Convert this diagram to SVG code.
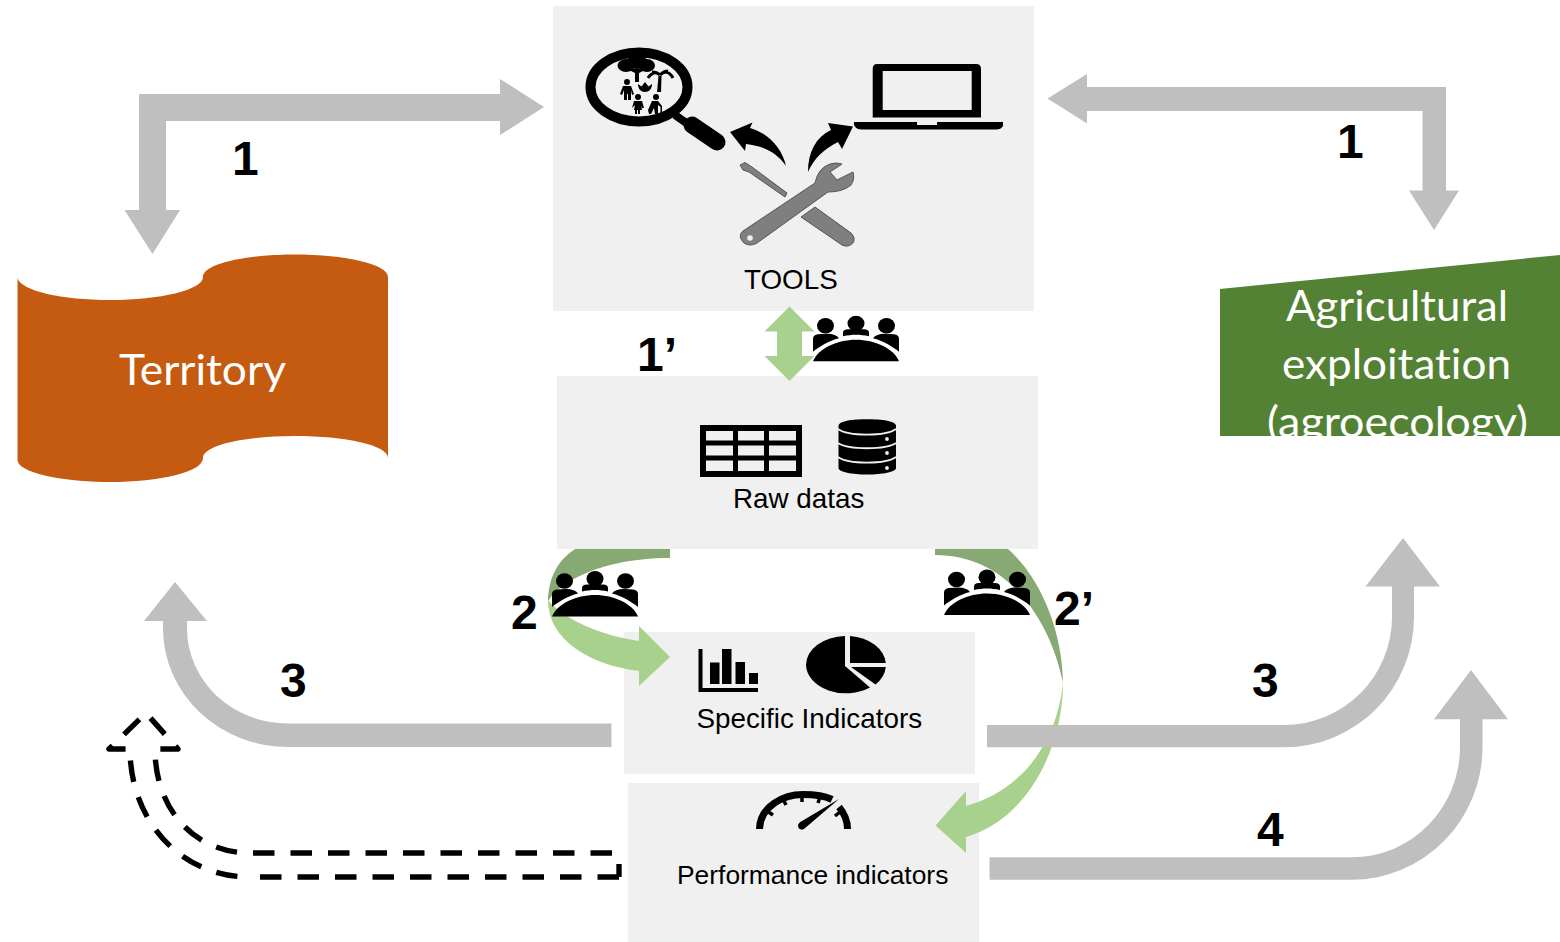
<svg xmlns="http://www.w3.org/2000/svg" width="1560" height="942" viewBox="0 0 1560 942">
<style>
.box{fill:#f0f0f0}
.gray{fill:#bfbfbf}
.light{fill:#a9d18e}
.dark{fill:#87a974}
.lbl{font-family:"Liberation Sans",Arial,sans-serif;font-size:27.8px;fill:#000}
.num{font-family:"Liberation Sans",Arial,sans-serif;font-weight:bold;font-size:48px;fill:#000}
.big{font-family:Lato,"Open Sans",sans-serif;font-size:43px;fill:#fff;font-variant-ligatures:none}
.k{fill:#000}
.t{fill:#7f7f7f;stroke:#555;stroke-width:1}
.dash{fill:none;stroke:#000;stroke-width:5.4;stroke-dasharray:21.5 16;stroke-linejoin:round}
</style>
<defs>
<clipPath id="agriClip"><rect x="1220" y="250" width="340" height="186"/></clipPath>
<g id="people">
<ellipse cx="13.500" cy="10" rx="8.500" ry="7.800" class="k"/>
<ellipse cx="44" cy="7.800" rx="8.500" ry="7.800" class="k"/>
<ellipse cx="74.500" cy="10" rx="8.500" ry="7.800" class="k"/>
<path class="k" d="M1 36V23Q1 19 6 18.500L15 18Q24 18 27 22.500C17 25 7 31 1 36Z"/>
<path class="k" d="M31 20.500V17Q31 13.500 36 13.500H52Q57 13.500 57 17V20.500C48 18.500 40 18.500 31 20.500Z"/>
<path class="k" d="M87 36V23Q87 19 82 18.500L73 18Q64 18 61 22.500C71 25 81 31 87 36Z"/>
<path class="k" d="M1 45.500C6 33 25 24 44 24C63 24 82 33 87 45.500Z"/>
</g>
</defs>

<g id="territory">
<path fill="#c55a11" d="M17.500 278C21 291 62 300 110 300C160 300 203 290 203 277C203 264 246 254.500 295 254.500C345 254.500 388 264 388 277V458C388 445 345 436 295 436C246 436 203 445 203 458C203 472 160 482 110 482C60 482 17.500 472 17.500 460Z"/>
<text class="big" x="119" y="385" textLength="167" lengthAdjust="spacingAndGlyphs">Territory</text>
</g>

<g id="agricultural-exploitation">
<polygon fill="#548235" points="1220,289 1560,255 1560,436 1220,436"/>
<g clip-path="url(#agriClip)">
<text class="big" x="1286" y="321" textLength="222" lengthAdjust="spacingAndGlyphs">Agricultural</text>
<text class="big" x="1282" y="379" textLength="229" lengthAdjust="spacingAndGlyphs">exploitation</text>
<text class="big" x="1267" y="437" textLength="261" lengthAdjust="spacingAndGlyphs">(agroecology)</text>
</g>
</g>

<g id="tools">
<rect class="box" x="553" y="6" width="481" height="305"/>
<ellipse cx="639" cy="87" rx="48.500" ry="34.500" fill="#f2f2f2" stroke="#000" stroke-width="10"/>
<path stroke="#000" stroke-width="8" d="M675 115L692 127"/>
<path stroke="#000" stroke-width="17" stroke-linecap="round" d="M692 125L717 142"/>
<ellipse class="k" cx="626" cy="65.500" rx="8.500" ry="6.500"/><ellipse class="k" cx="637" cy="62" rx="11" ry="6.500"/><ellipse class="k" cx="647" cy="65.500" rx="8" ry="6.500"/>
<path class="k" d="M627 69L635 73V82H639V73L647 69L637 68Z"/>
<path class="k" d="M657 92L658.500 76H661.500L661 92Z"/>
<path fill="none" stroke="#000" stroke-width="3" d="M660 75C656 71 651 73 648 78M660 75C664 70 670 72 673 78M660 75C657 72 654 72 652 72M660 75C663 72 666 71 668 71"/>
<path class="k" d="M638 84L641.500 86.500L645 82L648.500 86.500L652 84C652 89 649 92 645 92C641 92 638 89 638 84Z"/>
<circle class="k" cx="627" cy="82" r="3"/>
<path class="k" d="M620 94L623 86H631L634 94L632 95L631 90V100H628V94H627V100H624V90L622 95Z"/>
<circle class="k" cx="638" cy="97" r="3"/>
<path class="k" d="M632 108L634 101H642L644 108H642L641 105L642 110H640V114H638V110H637V114H635V110H634L635 105Z"/>
<circle class="k" cx="656" cy="97" r="3"/>
<path class="k" d="M648 110L652 101H658L662 106V114H660.500V107L658 105V114H655L654 108L651 114H649Z"/>
<path class="k" d="M730 132L752.500 122.500L750 128C768 133 782 148 786 166C777 153 764 146 746 144L745 151Z"/>
<path class="k" d="M853 126.500L828 123L831 130C816 137 808 152 808 172C814 158 824 149 838 142L842 149Z"/>
<path class="k" fill-rule="evenodd" d="M877 64H976Q981 64 981 69V117.500H872.700V69Q872.700 64 877 64ZM882.700 71V110H971.700V71Z"/>
<path class="k" d="M854 122H917V125H937V122H1003V126Q1001 129.500 996 129.500H862Q856 129.500 854 125Z"/>
<path class="t" d="M815 183Q818 168 830 164Q836 162 842 164L830 172L837 180L853 172Q855 180 851 185Q843 192 828 192L757 243Q750 247 744 243Q737 236 743 231Z"/>
<circle cx="750" cy="238" r="2.800" fill="#f0f0f0"/>
<path class="t" d="M740 165L745 162.500L752 167L787 193L785 197L749 172L743 170Z"/>
<path class="t" d="M801 217L815 207L851 233Q856 238 853 243Q848 248 842 245Z"/>
<text class="lbl" x="744" y="289">TOOLS</text>
</g>

<g id="raw-datas">
<rect class="box" x="557" y="376" width="481" height="173"/>
<rect x="703" y="428" width="96" height="46" fill="#f0f0f0" stroke="#000" stroke-width="6"/>
<path stroke="#000" stroke-width="5" d="M735.500 428V474M766.500 428V474M703 443H799M703 458H799"/>
<path class="k" d="M838.500 426C838.500 421 852 419.300 867 419.300C882 419.300 896 421 896 426V468C896 472 882 474.500 867 474.500C852 474.500 838.500 472 838.500 468Z"/>
<path fill="none" stroke="#f0f0f0" stroke-width="1.800" d="M838 429C848 436.500 886 436.500 896 429M838 443C848 450 886 450 896 443M838 457C848 464.500 886 464.500 896 457"/>
<circle cx="887" cy="439" r="1.900" fill="#f0f0f0"/><circle cx="887" cy="453" r="1.900" fill="#f0f0f0"/><circle cx="887" cy="468" r="1.900" fill="#f0f0f0"/>
<text class="lbl" x="733" y="508">Raw datas</text>
</g>

<g id="specific-indicators">
<rect class="box" x="624" y="632" width="351" height="142"/>
<path class="k" d="M698.500 649H702.500V688H758V692H698.500Z"/>
<rect class="k" x="710" y="662.500" width="9.500" height="21.500"/>
<rect class="k" x="722" y="649" width="9.500" height="35"/>
<rect class="k" x="735.500" y="662" width="9.500" height="22"/>
<rect class="k" x="749" y="673" width="9" height="11"/>
<path class="k" d="M845 636V666L870 687.500A40 29 0 0 1 806 665A40 29 0 0 1 845 636Z"/>
<path class="k" d="M850 636A40 29 0 0 1 885.800 663H850Z"/>
<path class="k" d="M851 667H885.800A40 29 0 0 1 875.500 684.500Z"/>
<text class="lbl" x="696.500" y="727.500">Specific Indicators</text>
</g>

<g id="performance-indicators">
<rect class="box" x="628" y="783" width="351" height="159"/>
<path fill="none" stroke="#000" stroke-width="7" d="M759.500 829C760 806 784 794.500 803 794.500C815 794.500 825 796 832 799.500M839 807C844 813 847.500 820 847.500 829"/>
<path stroke="#000" stroke-width="3.500" d="M767 811L773 815M783 799L786 805M802 795V802M820 797L818 803M840 812L835 816"/>
<path class="k" d="M839 799L804 829Q799 831 798 826Q798 823 802 821Z"/>
<text class="lbl" style="font-size:26.4px" x="677" y="883.500">Performance indicators</text>
</g>

<g id="connectors">
<path class="dark" d="M670 549H575C558 560 548 578 548 602C553 590 590 558 670 558Z"/>
<path class="light" d="M548 600C548 640 590 665 639 671V686L670 657L639 626V641C600 635 565 620 548 600Z"/>
<path class="dark" d="M935 549H1008C1040 577 1062.500 630 1063 683C1055 640 1020 555 935 555Z"/>
<path class="light" d="M1063 683C1063 745 1030 818 966 837V853L935.500 825.500L966 791V806C1015 793 1056 750 1063 683Z"/>
<polygon class="light" points="789.500,306.500 814.500,331.500 802,331.500 802,356 814.500,356 789.500,381 764.500,356 777,356 777,331.500 764.500,331.500"/>
<polygon class="gray" points="544,107 500,79 500,94 139,94 139,210 124.500,210 152.500,254 180,210 166,210 166,121 500,121 500,135"/>
<polygon class="gray" points="1047.500,98.500 1087,74 1087,87 1446,87 1446,190.500 1459,190.500 1434,230 1409,190.500 1422.500,190.500 1422.500,111 1087,111 1087,123.500"/>
<path class="gray" d="M611.500 723.500H288A101 95 0 0 1 187 628.500V621H207L175 582L144 621H163V628.500A125 118.500 0 0 0 288 747H611.500Z"/>
<path class="gray" d="M987 725H1284A108 108 0 0 0 1392 617V586.500H1365.500L1403 538L1440 586.500H1414V617A130 130.300 0 0 1 1284 747.300H987Z"/>
<path class="gray" d="M989.500 857.300H1352A108 110.300 0 0 0 1460 747V719.300H1434L1471 670L1508 719.300H1482.500V747A130.500 132.700 0 0 1 1352 879.700H989.500Z"/>
<path class="dash" d="M612 853H250C195 853 155 810 155 749H178L146 713L109 749H130C130 820 180 877 250 877"/>
<path class="dash" d="M619 877H250"/>
<path fill="none" stroke="#000" stroke-width="5.400" d="M619 864V877"/>
</g>

<g id="participants">
<use href="#people" x="812" y="315.700"/>
<use href="#people" x="551" y="571"/>
<use href="#people" x="943" y="569.500"/>
</g>

<g id="labels">
<text class="num" x="232" y="175">1</text>
<text class="num" x="1337" y="158">1</text>
<text class="num" x="637" y="371">1’</text>
<text class="num" x="511" y="629">2</text>
<text class="num" x="1054" y="625">2’</text>
<text class="num" x="280" y="697">3</text>
<text class="num" x="1252" y="697">3</text>
<text class="num" x="1257" y="846">4</text>
</g>
</svg>
